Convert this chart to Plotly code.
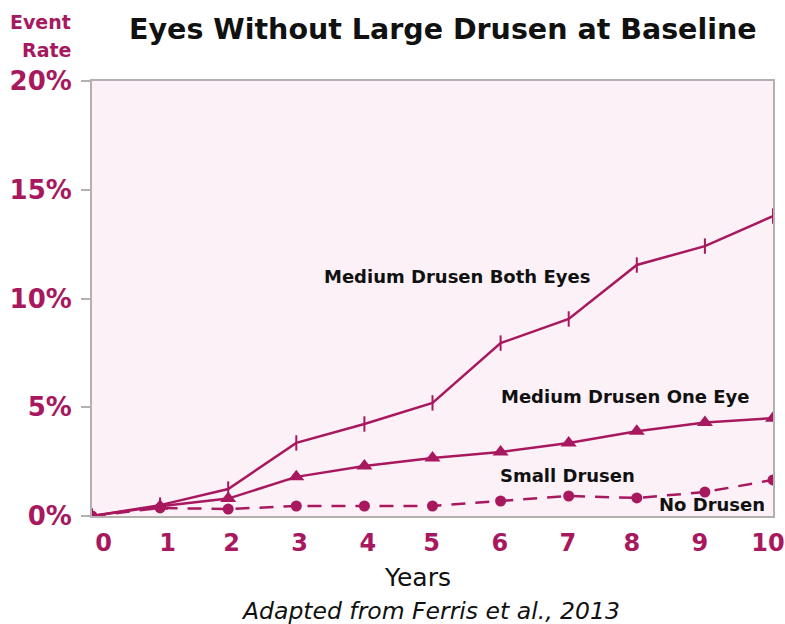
import plotly.graph_objects as go

years = [0, 1, 2, 3, 4, 5, 6, 7, 8, 9, 10]
both_eyes = [0, 0.5, 1.24, 3.36, 4.23, 5.2, 7.95, 9.06, 11.54, 12.41, 13.79]
one_eye = [0, 0.45, 0.8, 1.8, 2.3, 2.67, 2.94, 3.36, 3.9, 4.3, 4.5]
small_drusen = [0, 0.37, 0.32, 0.46, 0.46, 0.46, 0.69, 0.92, 0.83, 1.1, 1.66]
y_ticks = [0, 5, 10, 15, 20]
y_labels = ["0%", "5%", "10%", "15%", "20%"]
x_ticks = years
NB = "\u00a0"
x_labels = [NB * 4 + "0", NB * 3 + "1", NB * 2 + "2", NB * 2 + "3", NB * 2 + "4",
            NB + "5", NB + "6", NB + "7", "8", "9", "10"]

C = "#A8185E"
FONT = "DejaVu Sans"

fig = go.Figure()
fig.add_trace(go.Scatter(x=years, y=both_eyes, mode="lines+markers",
                         line=dict(color=C, width=2.5),
                         marker=dict(symbol="line-ns", size=11, line=dict(color=C, width=2))))
fig.add_trace(go.Scatter(x=years, y=one_eye, mode="lines+markers",
                         line=dict(color=C, width=2.5),
                         marker=dict(symbol="triangle-up", size=14, color=C)))
fig.add_trace(go.Scatter(x=years, y=small_drusen, mode="lines+markers",
                         line=dict(color=C, width=2.5, dash="14px,10px"),
                         marker=dict(symbol="circle", size=11, color=C)))

fig.update_layout(
    width=785, height=624,
    margin=dict(l=92, r=12, t=81, b=108),
    paper_bgcolor="white", plot_bgcolor="#FCF1F7",
    showlegend=False,
    font=dict(family=FONT),
    xaxis=dict(range=[0, 10], tickvals=x_ticks, ticktext=x_labels, showgrid=False, zeroline=False,
               showline=True, linecolor="#B5B0B0", linewidth=2, mirror=True,
               ticks="", tickfont=dict(size=24, color=C, family=FONT, weight="bold"),
               ticklabelstandoff=4, ticklabelshift=-5, ticklabeloverflow="allow", automargin=False),
    yaxis=dict(range=[0, 20], tickvals=y_ticks, ticktext=y_labels, showgrid=False, zeroline=False,
               showline=True, linecolor="#B5B0B0", linewidth=2, mirror=True,
               ticks="outside", ticklen=9, tickwidth=2, tickcolor="#B5B0B0",
               tickfont=dict(size=26, color=C, family=FONT, weight="bold"),
               ticklabelstandoff=4, automargin=False),
)

ann = [
    dict(text="Eyes Without Large Drusen at Baseline", x=443, y=30, size=28.5, color="#111111", weight="bold"),
    dict(text="Event", y=22, size=19, color=C, weight="bold", xanchor="right", x=73),
    dict(text="Rate", y=50, size=19, color=C, weight="bold", xanchor="right", x=73),
    dict(text="Years", x=417, y=577, size=25, color="#111111", weight="normal"),
    dict(text="<i>Adapted from Ferris et al., 2013</i>", x=430, y=611, size=23.5, color="#111111", weight="normal"),
    dict(text="Medium Drusen Both Eyes", x=457, y=276, size=18, color="#111111", weight="bold"),
    dict(text="Medium Drusen One Eye", x=625, y=396, size=18, color="#111111", weight="bold"),
    dict(text="Small Drusen", x=567, y=475, size=18, color="#111111", weight="bold"),
    dict(text="No Drusen", x=712, y=504, size=18, color="#111111", weight="bold"),
]
PW = 785 - 92 - 12
PH = 624 - 81 - 108
for a in ann:
    xa = a.get("xanchor", "center")
    fig.add_annotation(text=a["text"], x=(a["x"] - 92) / PW, y=(624 - 108 - a["y"]) / PH,
                       xref="paper", yref="paper",
                       xanchor=xa, yanchor="middle", showarrow=False,
                       font=dict(size=a["size"], color=a["color"], family=FONT, weight=a["weight"]))

fig.write_html("out.html")
